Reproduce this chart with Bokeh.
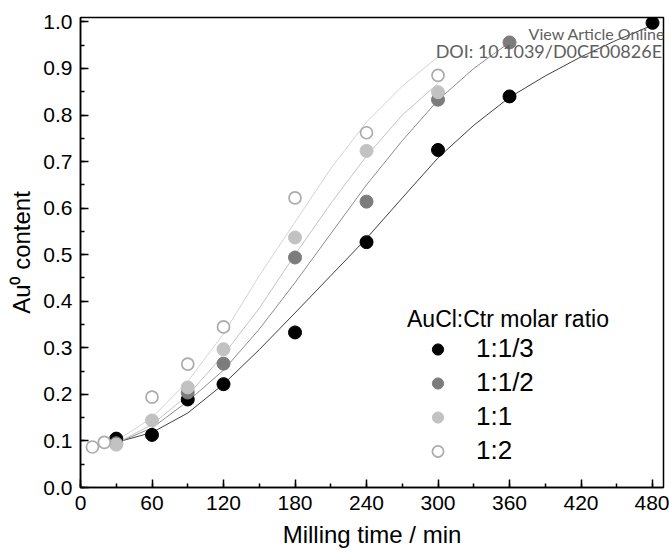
from bokeh.plotting import figure
from bokeh.models import (Range1d, SingleIntervalTicker, PrintfTickFormatter,
                          Legend, LegendItem, Label)
from bokeh.embed import file_html
from bokeh.resources import INLINE

# ---- measured data (milling time in min, Au0 content) ----
t_13 = [30, 60, 90, 120, 180, 240, 300, 360, 480]
y_13 = [0.105, 0.113, 0.189, 0.222, 0.333, 0.527, 0.725, 0.840, 0.998]

t_12 = [30, 90, 120, 180, 240, 300, 360]
y_12 = [0.095, 0.204, 0.266, 0.494, 0.614, 0.833, 0.956]

t_11 = [30, 60, 90, 120, 180, 240, 300]
y_11 = [0.092, 0.144, 0.215, 0.297, 0.537, 0.723, 0.849]

t_2 = [10, 20, 60, 90, 120, 180, 240, 300]
y_2 = [0.087, 0.097, 0.194, 0.265, 0.345, 0.622, 0.762, 0.885]

# ---- fitted curves ----
fit_t_13 = [30, 60, 90, 120, 150, 180, 210, 240, 270, 300, 330, 360, 390, 420, 450, 480]
fit_y_13 = [0.097, 0.118, 0.160, 0.222, 0.296, 0.375, 0.455, 0.535, 0.622, 0.708,
            0.778, 0.838, 0.884, 0.925, 0.961, 0.993]

fit_t_12 = [30, 60, 90, 120, 150, 180, 210, 240, 270, 300, 330, 360]
fit_y_12 = [0.095, 0.128, 0.185, 0.252, 0.340, 0.440, 0.545, 0.650, 0.745, 0.832, 0.900, 0.956]

fit_t_11 = [30, 60, 90, 120, 150, 180, 210, 240, 270, 300]
fit_y_11 = [0.095, 0.135, 0.198, 0.285, 0.385, 0.500, 0.610, 0.712, 0.800, 0.868]

fit_t_2 = [10, 30, 60, 90, 120, 150, 180, 210, 240, 270, 300]
fit_y_2 = [0.085, 0.100, 0.150, 0.228, 0.330, 0.455, 0.570, 0.685, 0.785, 0.862, 0.925]

series_labels = ["1:1/3", "1:1/2", "1:1", "1:2"]
legend_title = "AuCl:Ctr molar ratio"
x_label = "Milling time / min"
y_label = "Au\u2070 content"

FONT = "Liberation Sans"

p = figure(width=669, height=553, x_range=Range1d(0, 489.2), y_range=Range1d(0, 1.0095),
           output_backend="svg", toolbar_location=None,
           min_border_left=80, min_border_right=6, min_border_top=17, min_border_bottom=66)
p.xgrid.visible = False
p.ygrid.visible = False
p.outline_line_color = "black"
p.outline_line_width = 1.5
p.outline_line_alpha = 1.0
p.background_fill_color = "white"
p.border_fill_color = "white"

p.xaxis.ticker = SingleIntervalTicker(interval=60, num_minor_ticks=2)
p.yaxis.ticker = SingleIntervalTicker(interval=0.1, num_minor_ticks=2)
p.yaxis.formatter = PrintfTickFormatter(format="%.1f")
p.xaxis.axis_label = x_label
p.yaxis.axis_label = y_label
for ax in (p.xaxis[0], p.yaxis[0]):
    ax.major_tick_in = 8
    ax.major_tick_out = 0
    ax.minor_tick_in = 4
    ax.minor_tick_out = 0
    ax.axis_line_width = 1.5
    ax.major_tick_line_width = 1.5
    ax.minor_tick_line_width = 1.5
    ax.axis_line_color = "black"
    ax.major_tick_line_color = "black"
    ax.minor_tick_line_color = "black"
    ax.major_label_text_font = FONT
    ax.major_label_text_font_size = "21px"
    ax.major_label_text_color = "black"
    ax.axis_label_text_font = FONT
    ax.axis_label_text_font_size = "24px"
    ax.axis_label_text_font_style = "normal"
    ax.axis_label_text_color = "black"
p.xaxis.major_label_standoff = 8
p.xaxis.axis_label_standoff = 8
p.yaxis.major_label_standoff = 8
p.yaxis.axis_label_standoff = 5

# fitted curves
p.line(fit_t_13, fit_y_13, line_color="#404040", line_width=1)
p.line(fit_t_12, fit_y_12, line_color="#8c8c8c", line_width=1)
p.line(fit_t_11, fit_y_11, line_color="#c4c4c4", line_width=1)
p.line(fit_t_2, fit_y_2, line_color="#d4d4d4", line_width=1)

# data points
r13 = p.scatter(t_13, y_13, size=13, fill_color="black", line_color="black")
r12 = p.scatter(t_12, y_12, size=13, fill_color="#7c7c7c", line_color="#7c7c7c")
r11 = p.scatter(t_11, y_11, size=13, fill_color="#c2c2c2", line_color="#c2c2c2")
r2 = p.scatter(t_2, y_2, size=12, fill_color="white", line_color="#ababab", line_width=1.7)

legend = Legend(
    items=[LegendItem(label=lab, renderers=[r]) for lab, r in zip(series_labels, [r13, r12, r11, r2])],
    location=(327, 21), title=legend_title,
    border_line_color=None, background_fill_alpha=0,
    padding=0, margin=0, spacing=3,
    glyph_width=61, glyph_height=28, label_height=28, label_standoff=8, title_standoff=0,
    label_text_font=FONT, label_text_font_size="26px", label_text_color="black",
    title_text_font=FONT, title_text_font_size="23px", title_text_font_style="normal",
    title_text_color="black",
)
p.add_layout(legend)

p.add_layout(Label(x=376.0, y=0.975, text="View Article Online", text_font="Lato",
                   text_font_size="16px", text_color="#606060", text_baseline="middle",
                   text_align="left"))
p.add_layout(Label(x=298.0, y=0.9386, text="DOI: 10.1039/D0CE00826E", text_font="Lato",
                   text_font_size="18px", text_color="#606060", text_baseline="middle",
                   text_align="left"))

open("out.html", "w").write(file_html(p, INLINE))
